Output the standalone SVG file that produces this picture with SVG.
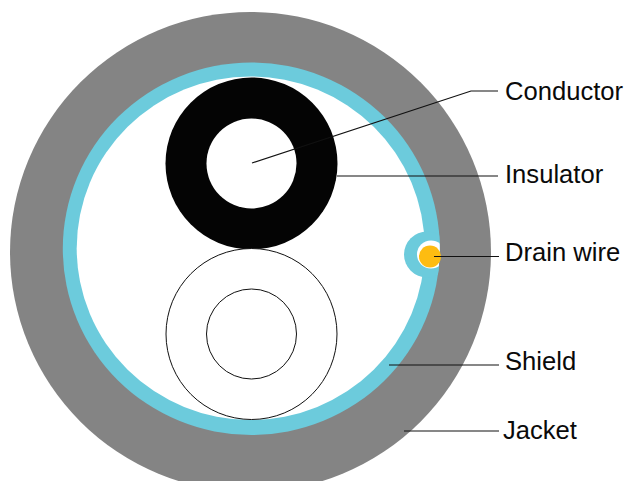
<svg xmlns="http://www.w3.org/2000/svg" width="629" height="481" viewBox="0 0 629 481">
<style>
.l{fill:none;stroke:#111;stroke-width:1.2}
.t{font-family:"Liberation Sans",Arial,sans-serif;font-size:25.6px;fill:#0a0a0a}
.w{fill:#fff;stroke:#111;stroke-width:1}
</style>
<defs><clipPath id="s"><ellipse cx="251.3" cy="248.75" rx="188.5" ry="186.25"/></clipPath></defs>
<rect width="629" height="481" fill="#fff"/>
<g id="jacket"><ellipse cx="250.5" cy="252" rx="240.5" ry="240" fill="#848484"/><text class="t" x="503" y="439">Jacket</text></g>
<g id="shield"><ellipse cx="251.3" cy="248.75" rx="188.5" ry="186.25" fill="#6ccbdc"/><ellipse cx="250.7" cy="248.25" rx="174" ry="171.75" fill="#fff"/><text class="t" x="505" y="370">Shield</text></g>
<g id="drain-wire">
<g clip-path="url(#s)"><circle cx="427" cy="254.5" r="23" fill="#6ccbdc"/><circle cx="431" cy="254.5" r="14" fill="#fff"/></g>
<circle cx="430" cy="256.5" r="11" fill="#fdbc11"/><text class="t" x="505" y="261">Drain wire</text></g>
<g id="insulator"><circle cx="251.5" cy="163.5" r="86" fill="#040404"/><text class="t" x="505" y="182.5">Insulator</text></g>
<g id="conductor"><circle cx="251.5" cy="163.5" r="45" fill="#fff"/><text class="t" x="505" y="99.5">Conductor</text></g>
<g id="lower-pair"><circle class="w" cx="251.5" cy="334" r="85.5"/><circle class="w" cx="251.5" cy="334" r="45"/></g>
<g id="connectors">
<path class="l" d="M252 163L471 91H498"/>
<path class="l" d="M337 176H498"/>
<path class="l" d="M434 256.5H499"/>
<path class="l" d="M389 365H499"/>
<path class="l" d="M404 431H499"/>
</g>
</svg>
